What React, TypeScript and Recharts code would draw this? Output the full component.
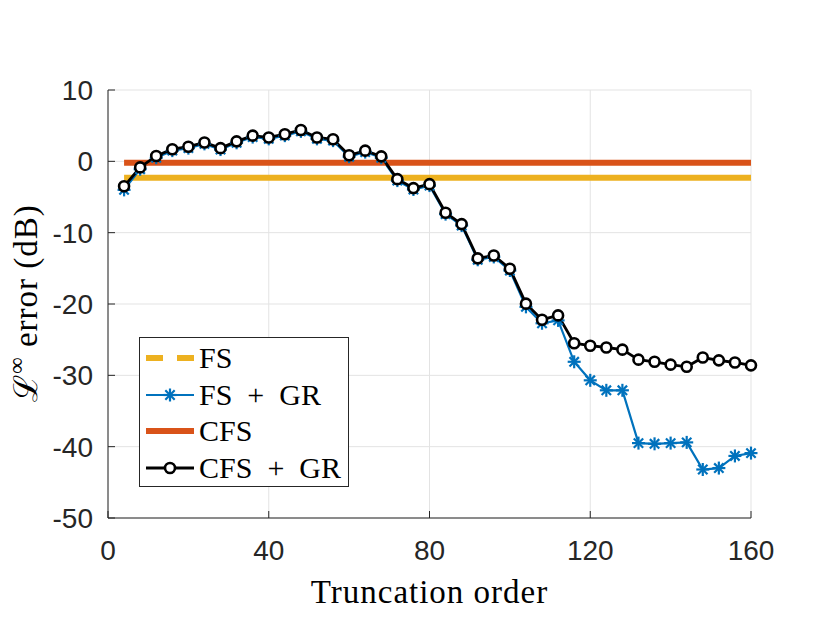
import React from 'react';
import { LineChart, Line, XAxis, YAxis, CartesianGrid, Legend, Label } from 'recharts';

const orders = [4, 8, 12, 16, 20, 24, 28, 32, 36, 40, 44, 48, 52, 56, 60, 64, 68, 72, 76, 80, 84, 88, 92, 96, 100, 104, 108, 112, 116, 120, 124, 128, 132, 136, 140, 144, 148, 152, 156, 160];

const fsGr = [-4.0, -1.1, 0.5, 1.5, 1.85, 2.45, 1.65, 2.6, 3.4, 3.15, 3.6, 4.2, 3.15, 2.9, 0.65, 1.3, 0.5, -2.7, -3.95, -3.4, -7.4, -9.0, -13.8, -13.4, -15.3, -20.4, -22.7, -22.3, -28.1, -30.7, -32.1, -32.1, -39.5, -39.6, -39.5, -39.4, -43.2, -43.0, -41.3, -40.9];

const cfsGr = [-3.5, -0.85, 0.75, 1.7, 2.05, 2.65, 1.85, 2.8, 3.6, 3.35, 3.8, 4.4, 3.35, 3.1, 0.85, 1.5, 0.7, -2.5, -3.75, -3.2, -7.2, -8.8, -13.6, -13.2, -15.05, -19.95, -22.2, -21.6, -25.5, -25.85, -26.1, -26.4, -27.8, -28.1, -28.5, -28.8, -27.5, -27.9, -28.2, -28.6];

const fsLevel = -2.3;
const cfsLevel = -0.2;

const xTicks = [0, 40, 80, 120, 160];
const yTicks = [-50, -40, -30, -20, -10, 0, 10];

const seriesNames = ['FS', 'FS\u2002+\u2002GR', 'CFS', 'CFS\u2002+\u2002GR'];

const COLORS = {
  fs: '#EDB120',
  fsgr: '#0072BD',
  cfs: '#D95319',
  cfsgr: '#000000',
  axis: '#262626',
  grid: '#e3e3e3',
};

const data = orders.map((n, i) => ({
  n,
  fs: fsLevel,
  fsgr: fsGr[i],
  cfs: cfsLevel,
  cfsgr: cfsGr[i],
}));

const SERIF = '"Liberation Serif", "Times New Roman", "DejaVu Serif", serif';
const SANS = '"Liberation Sans", Arial, Helvetica, sans-serif';

const Star = (props: any) => {
  const { cx, cy, index } = props;
  if (cx == null || cy == null) return <g key={`s-${index}`} />;
  const r = 6.5;
  const d = r * 0.72;
  return (
    <g key={`s-${index}`} stroke={COLORS.fsgr} strokeWidth={2.2} strokeLinecap="butt">
      <line x1={cx - r} y1={cy} x2={cx + r} y2={cy} />
      <line x1={cx} y1={cy - r} x2={cx} y2={cy + r} />
      <line x1={cx - d} y1={cy - d} x2={cx + d} y2={cy + d} />
      <line x1={cx - d} y1={cy + d} x2={cx + d} y2={cy - d} />
    </g>
  );
};

const LegendSample = ({ kind }: { kind: number }) => {
  const y = 18;
  if (kind === 0)
    return (
      <svg width={59} height={36}>
        <line x1={6} y1={y} x2={54} y2={y} stroke={COLORS.fs} strokeWidth={6} strokeDasharray="17 14" />
      </svg>
    );
  if (kind === 1)
    return (
      <svg width={59} height={36}>
        <line x1={6} y1={y} x2={54} y2={y} stroke={COLORS.fsgr} strokeWidth={2.2} />
        <Star cx={30} cy={y} index={0} />
      </svg>
    );
  if (kind === 2)
    return (
      <svg width={59} height={36}>
        <line x1={6} y1={y} x2={54} y2={y} stroke={COLORS.cfs} strokeWidth={6} />
      </svg>
    );
  return (
    <svg width={59} height={36}>
      <line x1={6} y1={y} x2={54} y2={y} stroke={COLORS.cfsgr} strokeWidth={2.8} />
      <circle cx={30} cy={y} r={5} fill="#fff" stroke={COLORS.cfsgr} strokeWidth={2.6} />
    </svg>
  );
};

const renderLegend = () => (
  <div
    style={{
      boxSizing: 'border-box',
      width: 210,
      height: 150,
      border: `1px solid ${COLORS.axis}`,
      background: '#fff',
      padding: '2px 0',
    }}
  >
    {seriesNames.map((name, i) => (
      <div key={name} style={{ display: 'flex', alignItems: 'center', height: 36.5 }}>
        <LegendSample kind={i} />
        <span style={{ fontFamily: SERIF, fontSize: 30, lineHeight: '30px', color: '#000', whiteSpace: 'pre' }}>{name}</span>
      </div>
    ))}
  </div>
);

const XLabel = (props: any) => {
  const vb = props.viewBox || { x: 108, y: 518, width: 643, height: 122 };
  return (
    <text
      x={vb.x + vb.width / 2}
      y={vb.y + 85}
      textAnchor="middle"
      fontFamily={SERIF}
      fontSize={33}
      letterSpacing={1}
      fill="#000"
    >
      Truncation order
    </text>
  );
};

const YLabel = (props: any) => {
  const vb = props.viewBox || { x: 0, y: 90, width: 108, height: 428 };
  const x = vb.x + 37;
  const y = vb.y + vb.height / 2 - 1;
  return (
    <text
      x={x}
      y={y}
      transform={`rotate(-90, ${x}, ${y})`}
      textAnchor="middle"
      fontFamily={SERIF}
      fontSize={33}
      letterSpacing={1}
      fill="#000"
    >
      <tspan>{'\u2112'}</tspan>
      <tspan dy={-13} fontSize={23}>{'\u221e'}</tspan>
      <tspan dy={13}>{'\u00a0error (dB)'}</tspan>
    </text>
  );
};

export default function App() {
  return (
    <div style={{ position: 'absolute', left: 0, top: 0, width: 830, height: 640, background: '#fff' }}>
      <LineChart width={830} height={640} data={data} margin={{ top: 90, right: 79, bottom: 0, left: 0 }}>
        <CartesianGrid stroke={COLORS.grid} strokeWidth={1} />
        <XAxis
          dataKey="n"
          type="number"
          domain={[0, 160]}
          ticks={xTicks}
          height={122}
          stroke={COLORS.axis}
          tickSize={-7}
          tickMargin={29}
          tick={{ fontSize: 28, fill: COLORS.axis, fontFamily: SANS }}
          interval={0}
        >
          <Label content={<XLabel />} />
        </XAxis>
        <XAxis
          xAxisId="top"
          dataKey="n"
          type="number"
          orientation="top"
          domain={[0, 160]}
          ticks={xTicks}
          height={0}
          stroke={COLORS.axis}
          tickSize={-7}
          tick={false}
          interval={0}
        />
        <YAxis
          type="number"
          domain={[-50, 10]}
          ticks={yTicks}
          width={108}
          stroke={COLORS.axis}
          tickSize={-7}
          tickMargin={22}
          tick={{ fontSize: 28, fill: COLORS.axis, fontFamily: SANS }}
          interval={0}
        >
          <Label content={<YLabel />} />
        </YAxis>
        <YAxis
          yAxisId="right"
          type="number"
          orientation="right"
          domain={[-50, 10]}
          ticks={yTicks}
          width={0}
          stroke={COLORS.axis}
          tickSize={-7}
          tick={false}
          interval={0}
        />
        <Line
          type="linear"
          dataKey="fs"
          name={seriesNames[0]}
          stroke={COLORS.fs}
          strokeWidth={6}
          dot={false}
          activeDot={false}
          isAnimationActive={false}
        />
        <Line
          type="linear"
          dataKey="fsgr"
          name={seriesNames[1]}
          stroke={COLORS.fsgr}
          strokeWidth={2.2}
          dot={(p: any) => <Star key={`star-${p.index}`} {...p} />}
          activeDot={false}
          isAnimationActive={false}
        />
        <Line
          type="linear"
          dataKey="cfs"
          name={seriesNames[2]}
          stroke={COLORS.cfs}
          strokeWidth={6}
          dot={false}
          activeDot={false}
          isAnimationActive={false}
        />
        <Line
          type="linear"
          dataKey="cfsgr"
          name={seriesNames[3]}
          stroke={COLORS.cfsgr}
          strokeWidth={2.8}
          dot={{ r: 5, fill: '#fff', stroke: COLORS.cfsgr, strokeWidth: 2.6 }}
          activeDot={false}
          isAnimationActive={false}
        />
        <Legend
          layout="vertical"
          align="center"
          verticalAlign="middle"
          content={renderLegend}
          wrapperStyle={{ left: 139, top: 337, width: 210, height: 150 }}
        />
      </LineChart>
    </div>
  );
}
